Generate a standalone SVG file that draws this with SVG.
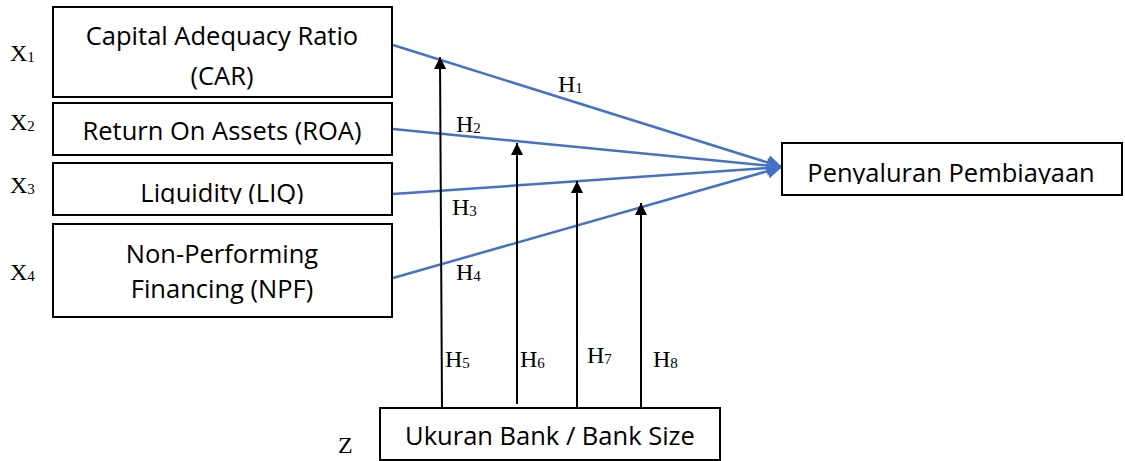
<svg xmlns="http://www.w3.org/2000/svg" width="1125" height="461" viewBox="0 0 1125 461">
  <style>
    .box { fill: #ffffff; stroke: #000000; stroke-width: 2; }
    .lbl { font-family: "Open Sans", Lato, sans-serif; font-size: 25.5px; fill: #000000; text-anchor: middle; }
    .var { font-family: "Liberation Serif", "Times New Roman", serif; font-size: 24px; fill: #000000; }
    .sub { font-size: 15px; }
    .blue { stroke: #4472C4; stroke-width: 2.5; fill: none; marker-end: url(#blueHead); }
    .blk { stroke: #000000; stroke-width: 2; fill: none; marker-end: url(#blackHead); }
  </style>
  <defs>
    <marker id="blueHead" viewBox="0 0 10 10" refX="10" refY="5" markerUnits="userSpaceOnUse" markerWidth="17" markerHeight="15" orient="auto">
      <path d="M0,0 L10,5 L0,10 z" fill="#4472C4"/>
    </marker>
    <marker id="blackHead" viewBox="0 0 10 10" refX="10" refY="5" markerUnits="userSpaceOnUse" markerWidth="16" markerHeight="12" orient="auto">
      <path d="M0,0 L10,5 L0,10 z" fill="#000000"/>
    </marker>
    <clipPath id="clipLiq"><rect x="53" y="163" width="339" height="41"/></clipPath>
    <clipPath id="clipPen"><rect x="782" y="143" width="340" height="41"/></clipPath>
  </defs>

  <!-- connectors -->
  <g id="connectors">
    <line class="blue" x1="393" y1="45" x2="782" y2="167"/>
    <line class="blue" x1="393" y1="129" x2="782" y2="167"/>
    <line class="blue" x1="393" y1="194" x2="782" y2="167"/>
    <line class="blue" x1="393" y1="278" x2="782" y2="167"/>
    <line class="blk" x1="442" y1="408" x2="440" y2="57"/>
    <line class="blk" x1="517" y1="404" x2="517" y2="143"/>
    <line class="blk" x1="577" y1="408" x2="577" y2="181"/>
    <line class="blk" x1="641" y1="408" x2="641" y2="203"/>
  </g>

  <!-- hypothesis labels -->
  <g id="hypotheses" class="var">
    <text x="558" y="92">H<tspan class="sub" dy="1">1</tspan></text>
    <text x="456" y="132">H<tspan class="sub" dy="1">2</tspan></text>
    <text x="452" y="215">H<tspan class="sub" dy="1">3</tspan></text>
    <text x="456" y="280">H<tspan class="sub" dy="1">4</tspan></text>
    <text x="445" y="367">H<tspan class="sub" dy="1">5</tspan></text>
    <text x="520" y="367">H<tspan class="sub" dy="1">6</tspan></text>
    <text x="587" y="363">H<tspan class="sub" dy="1">7</tspan></text>
    <text x="653" y="367">H<tspan class="sub" dy="1">8</tspan></text>
  </g>

  <g id="car">
    <rect class="box" x="53" y="7" width="339" height="90"/>
    <text class="lbl" x="222" y="45">Capital Adequacy Ratio</text>
    <text class="lbl" x="222" y="85">(CAR)</text>
    <text class="var" x="10" y="61">X<tspan class="sub" dy="1">1</tspan></text>
  </g>

  <g id="roa">
    <rect class="box" x="53" y="103" width="339" height="52"/>
    <text class="lbl" x="222" y="140">Return On Assets (ROA)</text>
    <text class="var" x="10" y="130">X<tspan class="sub" dy="1">2</tspan></text>
  </g>

  <g id="liq">
    <rect class="box" x="53" y="163" width="339" height="52"/>
    <text class="lbl" x="222" y="202" clip-path="url(#clipLiq)">Liquidity (LIQ)</text>
    <text class="var" x="10" y="193">X<tspan class="sub" dy="1">3</tspan></text>
  </g>

  <g id="npf">
    <rect class="box" x="53" y="224" width="339" height="93"/>
    <text class="lbl" x="222" y="263">Non-Performing</text>
    <text class="lbl" x="222" y="298">Financing (NPF)</text>
    <text class="var" x="10" y="280">X<tspan class="sub" dy="1">4</tspan></text>
  </g>

  <g id="penyaluran">
    <rect class="box" x="782" y="143" width="340" height="52"/>
    <text class="lbl" x="951" y="182" clip-path="url(#clipPen)">Penyaluran Pembiayaan</text>
  </g>

  <g id="bank-size">
    <rect class="box" x="380" y="408" width="340" height="52"/>
    <text class="lbl" x="550" y="445">Ukuran Bank / Bank Size</text>
    <text class="var" x="338" y="453">Z</text>
  </g>
</svg>
